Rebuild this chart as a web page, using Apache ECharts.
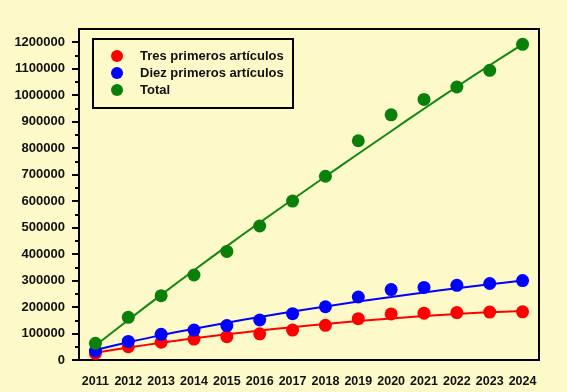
<!DOCTYPE html>
<html>
<head>
<meta charset="utf-8">
<script src="https://cdn.jsdelivr.net/npm/echarts@6/dist/echarts.min.js"></script>
<style>
html,body{margin:0;padding:0;background:#fdf9c9;}
#c{width:567px;height:392px;}
</style>
</head>
<body>
<div id="c"></div>
<script>
// Data
const years = ['2011','2012','2013','2014','2015','2016','2017','2018','2019','2020','2021','2022','2023','2024'];
const seriesNames = ['Tres primeros artículos','Diez primeros artículos','Total'];
// observed points
const tresPts  = [25000, 50000, 67000, 79000, 88000, 99000, 113000, 131000, 156000, 174000, 177000, 179000, 181000, 182000];
const diezPts  = [34000, 70000, 97000, 113000, 130000, 151000, 175000, 201000, 238000, 266000, 274000, 282000, 289000, 300000];
const totalPts = [63000, 161000, 243000, 321000, 410000, 506000, 600000, 694000, 828000, 926000, 984000, 1031000, 1094000, 1192000];
// fitted trend curves
const tresFit  = [27000, 47000, 65000, 82000, 97000, 111000, 124000, 136000, 147000, 157000, 166000, 174000, 180000, 185000];
const diezFit  = [38000, 67000, 94000, 118000, 141000, 162000, 183000, 202000, 221000, 238000, 255000, 271000, 286000, 300000];
const totalFit = [55000, 151000, 246000, 339000, 430000, 519000, 606000, 693000, 779000, 864000, 949000, 1032000, 1113000, 1192000];
// y axis ticks
const yMajorTicks = [0,100000,200000,300000,400000,500000,600000,700000,800000,900000,1000000,1100000,1200000];
const yMinorTicks = [50000,150000,250000,350000,450000,550000,650000,750000,850000,950000,1050000,1150000];

const colors = ['#ff0000','#0000ff','#0a800a'];
const lineColors = ['#ff0000','#0000ff','#118811'];
const fontFam = '"Liberation Sans", Arial, sans-serif';

const chart = echarts.init(document.getElementById('c'), null, {renderer:'canvas'});
const fits = [tresFit, diezFit, totalFit];
const pts = [tresPts, diezPts, totalPts];
const series = [];
fits.forEach((d,i)=>{
  series.push({
    name: 'fit'+i, type:'line', data:d, symbol:'none', smooth:0.3,
    lineStyle:{color:lineColors[i], width:2}, silent:true, z:2
  });
});
pts.forEach((d,i)=>{
  series.push({
    name: seriesNames[i], type:'scatter', data:d, symbol:'circle', symbolSize:13,
    itemStyle:{color:colors[i], opacity:1}, z:3
  });
});

chart.setOption({
  backgroundColor:'#fdf9c9',
  animation:false,
  grid:{left:79, top:29, right:28, bottom:32, show:true, borderColor:'#000', borderWidth:2, backgroundColor:'transparent'},
  legend:{
    data: seriesNames.map((n,i)=>({name:n, icon:'circle', itemStyle:{color:colors[i]}})),
    orient:'vertical', left:111, top:49, padding:0, itemGap:3,
    itemWidth:12, itemHeight:12,
    textStyle:{fontFamily:fontFam, fontWeight:'bold', fontSize:13, color:'#111', lineHeight:14, padding:[0,0,0,12]},
    selectedMode:false
  },
  graphic:[{type:'rect', shape:{x:93, y:39, width:200, height:69}, style:{fill:null, stroke:'#000', lineWidth:2}, z:100}],
  xAxis:{
    type:'category', data:years, boundaryGap:true,
    axisLine:{lineStyle:{color:'#000', width:2}},
    axisTick:{alignWithLabel:true, interval:0, length:6, lineStyle:{color:'#000', width:2}},
    axisLabel:{interval:0, fontFamily:fontFam, fontWeight:'bold', fontSize:12.5, color:'#111', margin:15},
    splitLine:{show:false}
  },
  yAxis:[{
    type:'value', min:0, max:1250000,
    axisLine:{show:true, lineStyle:{color:'#000', width:2}},
    axisTick:{show:true, length:7, customValues:yMajorTicks, lineStyle:{color:'#000', width:2}},
    axisLabel:{customValues:yMajorTicks, formatter:(v)=>String(v), fontFamily:fontFam, fontWeight:'bold', fontSize:13, color:'#111', margin:14},
    splitLine:{show:false}
  },{
    type:'value', min:0, max:1250000, position:'left',
    axisLine:{show:false},
    axisTick:{show:true, length:4, customValues:yMinorTicks, lineStyle:{color:'#000', width:2}},
    axisLabel:{show:false},
    splitLine:{show:false}
  }],
  series: series
});
</script>
</body>
</html>
